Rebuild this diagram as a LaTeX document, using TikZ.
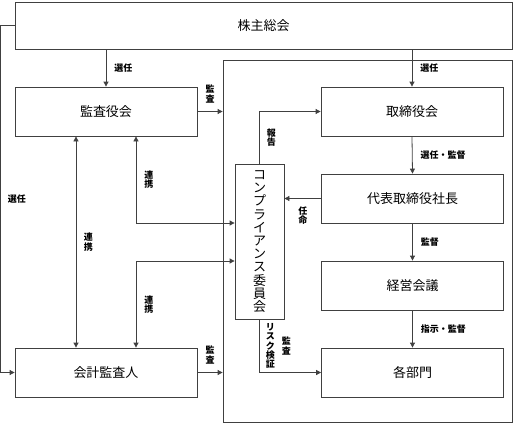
\documentclass[tikz,border=0pt]{standalone}
\usepackage{fontspec}
\setmainfont{Noto Sans CJK JP}
\usepackage{tikz}
\usetikzlibrary{arrows.meta,positioning,calc}

\begin{document}
\begin{tikzpicture}[x=1pt,y=-1pt]
  % estilos
  \tikzstyle{box}=[rectangle, draw=black!75, line width=0.8pt, minimum width=182pt, minimum height=49pt, inner sep=0pt, font=\fontsize{13}{15}\selectfont]
  \tikzstyle{lab}=[inner sep=0pt, align=center, font=\bfseries\fontsize{9}{9.4}\selectfont]
  \tikzstyle{arr}=[-{Triangle[length=5pt,width=5pt]}, line width=0.8pt, draw=black!75]
  \tikzstyle{darr}=[{Triangle[length=5pt,width=5pt]}-{Triangle[length=5pt,width=5pt]}, line width=0.8pt, draw=black!75]
  \useasboundingbox (0,0) rectangle (515,424);

  % cajas
  \node[box, minimum width=497pt, minimum height=47pt] (gm) at (263.5,25.5) {株主総会};
  \node[draw=black!75, line width=0.8pt, minimum width=289pt, minimum height=362pt, inner sep=0pt] (exec) at (367.5,241) {};
  \node[box] (kansayaku) at (106,111.5) {監査役会};
  \node[box] (torishimari) at (412,111.5) {取締役会};
  \node[box] (shacho) at (412.5,198.5) {代表取締役社長};
  \node[box] (keiei) at (412.5,285.5) {経営会議};
  \node[box] (bumon) at (412.5,372.5) {各部門};
  \node[box] (kaikei) at (106,372.5) {会計監査人};
  \node[box, minimum width=49pt, minimum height=155pt, font=\fontsize{13}{13.2}\selectfont, align=center] (comp) at (259.5,241.5)
    {コ\\ン\\プ\\ラ\\イ\\ア\\ン\\ス\\委\\員\\会};

  % selección
  \draw[arr] (gm.south -| kansayaku.north) -- (kansayaku.north) node[lab, midway, right=8pt] {選任};
  \draw[arr] (gm.south -| torishimari.north) -- (torishimari.north) node[lab, midway, right=8pt] {選任};
  \draw[arr] (gm.west) -- ++(-14,0) |- (kaikei.west) node[lab, pos=0.25, right=7pt] {選任};

  % auditoría
  \draw[arr] (kansayaku.east) -- (kansayaku.east -| exec.west) node[lab, midway, above=8pt] {監\\査};
  \draw[arr] (kaikei.east) -- (kaikei.east -| exec.west) node[lab, midway, above=8pt] {監\\査};

  % línea ejecutiva
  \draw[arr] (torishimari.south) -- (shacho.north) node[lab, midway, right=8pt] {選任・監督};
  \draw[arr] (shacho.south) -- (keiei.north) node[lab, midway, right=8pt] {監督};
  \draw[arr] (keiei.south) -- (bumon.north) node[lab, midway, right=8pt] {指示・監督};
  \draw[arr] (shacho.west) -- (shacho.west -| comp.east) node[lab, midway, below=8pt] {任\\命};
  \draw[arr] (comp.north) |- (torishimari.west) node[lab, pos=0.25, right=7pt] {報\\告};
  \draw[arr] (comp.south) |- (bumon.west)
    node[lab, pos=0.25, right=6pt] {リ\\ス\\ク\\検\\証}
    node[lab, pos=0.25, right=22pt] {監\\査};

  % coordinación
  \draw[darr] ([xshift=-30pt]kansayaku.south) -- ([xshift=-30pt]kaikei.north) node[lab, midway, right=7.5pt] {連\\携};
  \draw[darr] ([xshift=30pt]kansayaku.south) |- ([yshift=18.5pt]comp.west) node[lab, pos=0.25, right=8pt] {連\\携};
  \draw[darr] ([yshift=-19.5pt]comp.west) -| ([xshift=30pt]kaikei.north) node[lab, pos=0.75, right=8pt] {連\\携};
\end{tikzpicture}
\end{document}
